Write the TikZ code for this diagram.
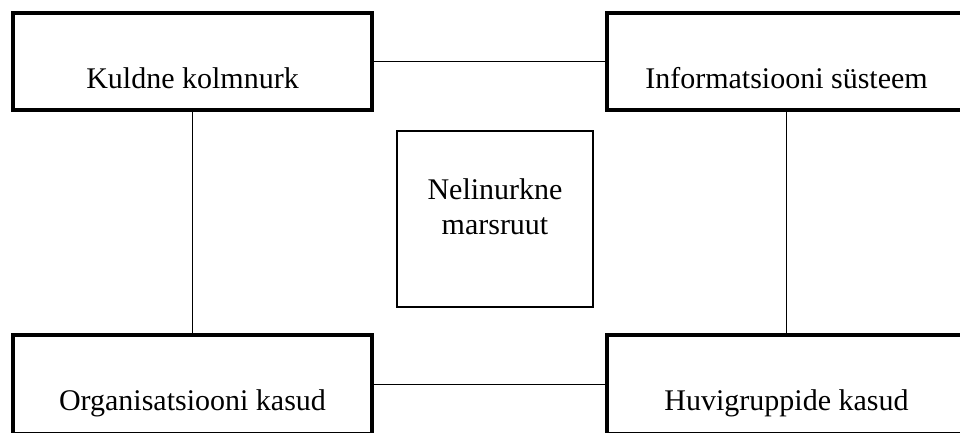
\documentclass[tikz,border=0pt]{standalone}
\usepackage{fontspec}
\setmainfont{Liberation Serif}
\usepackage{tikz}

\begin{document}
\begin{tikzpicture}[x=0.75pt, y=0.75pt,
    font=\fontsize{22.5}{26.25}\selectfont,
    corner/.style={draw, line width=3pt, inner sep=0pt, minimum width=269.25pt, text height=57pt, text depth=15.75pt},
    route/.style={draw, line width=1pt, inner sep=0pt, align=center, minimum width=147pt, text height=78pt, text depth=54pt},
    link/.style={line width=1.1pt}]
    \useasboundingbox (0, 0) rectangle (960, 432);
    \clip (0, 0) rectangle (960, 432);

    % four corners
    \node[corner] (K) at (192.5, 370.5) {Kuldne kolmnurk};
    \node[corner] (I) at (786.5, 370.5) {Informatsiooni süsteem};
    \node[corner, text depth=16.9pt] (O) at (192.5, 47.75) {Organisatsiooni kasud};
    \node[corner, text depth=16.9pt] (H) at (786.5, 47.75) {Huvigruppide kasud};

    % middle
    \node[route] (M) at (495, 213) {Nelinurkne\\marsruut};

    \draw[link] (K) -- (I);
    \draw[link] (O) -- (H);
    \draw[link] (K) -- (O);
    \draw[link] (I) -- (H);
\end{tikzpicture}
\end{document}
